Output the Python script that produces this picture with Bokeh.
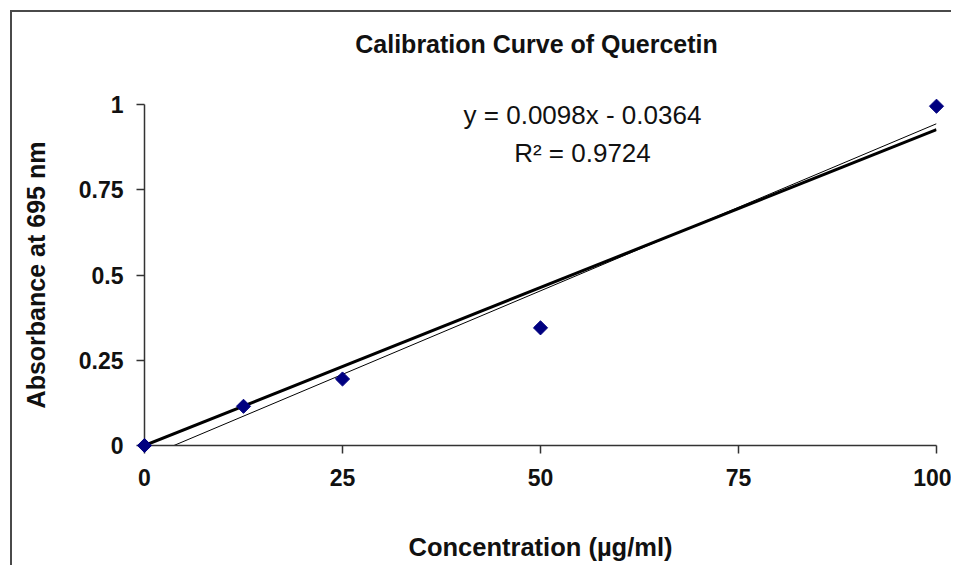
import numpy as np
from bokeh.plotting import figure
from bokeh.models import Label, Range1d, FixedTicker
from bokeh.core.properties import value
from bokeh.embed import file_html
from bokeh.resources import INLINE

# ---- data ----
concentration = [0, 12.5, 25, 50, 100]
absorbance = [0.0, 0.115, 0.195, 0.345, 0.995]
x_ticks = [0, 25, 50, 75, 100]
y_ticks = [0, 0.25, 0.5, 0.75, 1]
y_tick_labels = {0: "0", 0.25: "0.25", 0.5: "0.5", 0.75: "0.75", 1: "1"}
fit_slope = 0.0098
fit_intercept = -0.0364
r_squared = 0.9724
title_text = "Calibration Curve of Quercetin"

FONT = "Liberation Sans"
AX = "#333333"

p = figure(width=941, height=555, output_backend="svg", toolbar_location=None,
           x_range=Range1d(0, 100), y_range=Range1d(0, 1),
           min_border_left=132, min_border_right=17, min_border_top=92, min_border_bottom=122)
p.styles = {"border-left": "2px solid #4a4a4a", "border-top": "2px solid #4a4a4a",
            "margin-left": "10px", "margin-top": "10px"}
p.outline_line_color = None
p.grid.visible = False
p.background_fill_color = "white"
p.border_fill_color = "white"

for ax in (p.xaxis[0], p.yaxis[0]):
    ax.axis_line_color = AX
    ax.axis_line_width = 1.5
    ax.major_tick_line_color = AX
    ax.major_tick_line_width = 1.5
    ax.major_tick_in = 0
    ax.major_tick_out = 8
    ax.minor_tick_line_color = None
    ax.major_label_text_font = FONT
    ax.major_label_text_font_size = "23px"
    ax.major_label_text_font_style = "bold"
    ax.major_label_text_color = "#111111"
    ax.axis_label_text_font = FONT
    ax.axis_label_text_font_style = "bold"
    ax.axis_label_text_color = "#111111"

p.xaxis[0].ticker = FixedTicker(ticks=x_ticks)
p.yaxis[0].ticker = FixedTicker(ticks=y_ticks)
p.yaxis[0].major_label_overrides = y_tick_labels
p.xaxis[0].axis_label = "Concentration (µg/ml)"
p.yaxis[0].axis_label = "Absorbance at 695 nm"
p.xaxis[0].major_label_standoff = 15
p.yaxis[0].major_label_standoff = 13
p.xaxis[0].axis_label_text_font_size = "25.5px"
p.yaxis[0].axis_label_text_font_size = "25px"
p.xaxis[0].axis_label_standoff = 44
p.yaxis[0].axis_label_standoff = 26

# zero-intercept least squares line (thick)
xa = np.array(concentration)
ya = np.array(absorbance)
slope0 = float((xa * ya).sum() / (xa * xa).sum())
xmax = max(concentration)
p.line([0, xmax], [0, slope0 * xmax], line_color="black", line_width=3)

# linear trendline from the printed equation (thin)
x_start = -fit_intercept / fit_slope
p.line([x_start, xmax], [fit_slope * x_start + fit_intercept, fit_slope * xmax + fit_intercept],
       line_color="black", line_width=1)

pts = p.scatter(concentration, absorbance, marker="square", angle=np.pi / 4, size=10,
                fill_color="#000080", line_color="#000080")
pts.level = "overlay"

# chart title, drawn above the frame (overlay level is not clipped)
ttl = p.text(x=[49.5], y=[1.176], text=[title_text], text_align="center",
             text_baseline="alphabetic", text_font=value(FONT), text_font_size="25px",
             text_font_style="bold", text_color="#111111")
ttl.level = "overlay"

eq = Label(x=55.3, y=0.968, text=f"y = {fit_slope}x - {abs(fit_intercept)}",
           text_align="center", text_baseline="alphabetic",
           text_font=FONT, text_font_size="26px", text_color="#111111")
r2 = Label(x=55.3, y=0.859, text=f"R² = {r_squared}",
           text_align="center", text_baseline="alphabetic",
           text_font=FONT, text_font_size="26px", text_color="#111111")
p.add_layout(eq)
p.add_layout(r2)

open("out.html", "w").write(file_html(p, INLINE))
